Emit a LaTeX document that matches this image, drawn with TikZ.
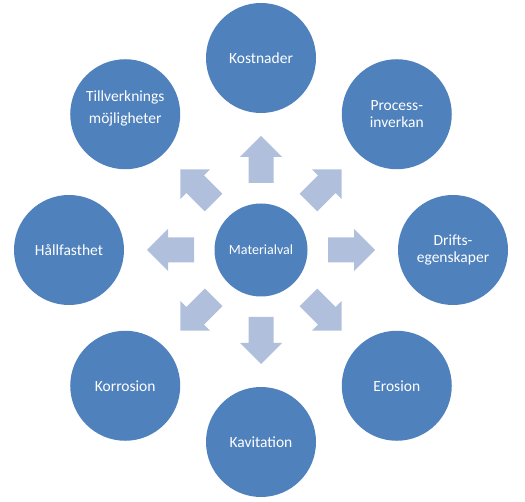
\documentclass[tikz,border=0pt]{standalone}
\usepackage{fontspec}
\setmainfont{Carlito}
\definecolor{circ}{HTML}{4F81BD}
\definecolor{arr}{HTML}{B0C0DC}
\begin{document}
\begin{tikzpicture}[x=1pt,y=1pt,
  outer/.style={circle, fill=circ, minimum size=110pt, inner sep=0pt, text=white,
    font=\fontsize{15.5}{17.5}\selectfont, align=center},
  centre/.style={circle, fill=circ, minimum size=93pt, inner sep=0pt, text=white,
    font=\fontsize{14}{16}\selectfont},
  label text/.style={text=white, font=\fontsize{15.5}{17.5}\selectfont, align=center, inner sep=0pt},
  blockarrow/.style={fill=arr}]
\useasboundingbox (0,0) rectangle (525,501);
\coordinate (c) at (261,251);
% block arrows
\foreach \a in {0,45,...,315}{
  \fill[blockarrow, shift={(c)}, rotate=\a]
    (67,-12.5) -- (93,-12.5) -- (93,-21) -- (114,0) -- (93,21) -- (93,12.5) -- (67,12.5) -- cycle;
}
\node[centre] (mat) at (c) {Materialval};
\node[outer] (kost) at ([shift={(90:192)}]c) {Kostnader};
\node[outer] (proc) at ([shift={(45:192)}]c) {Process-\\inverkan};
\node[outer] (drift) at ([shift={(0:192)}]c) {Drifts-\\egenskaper};
\node[outer] (eros) at ([shift={(-45:192)}]c) {Erosion};
\node[outer] (kav) at ([shift={(-90:192)}]c) {Kavitation};
\node[outer] (korr) at ([shift={(-135:192)}]c) {Korrosion};
\node[outer] (hall) at ([shift={(180:192)}]c) {Hållfasthet};
\node[outer] (till) at ([shift={(135:192)}]c) {};
\node[label text] (tilltext) at ([yshift=6]till.center) {Tillverknings\\[5pt]möjligheter};
\end{tikzpicture}
\end{document}
